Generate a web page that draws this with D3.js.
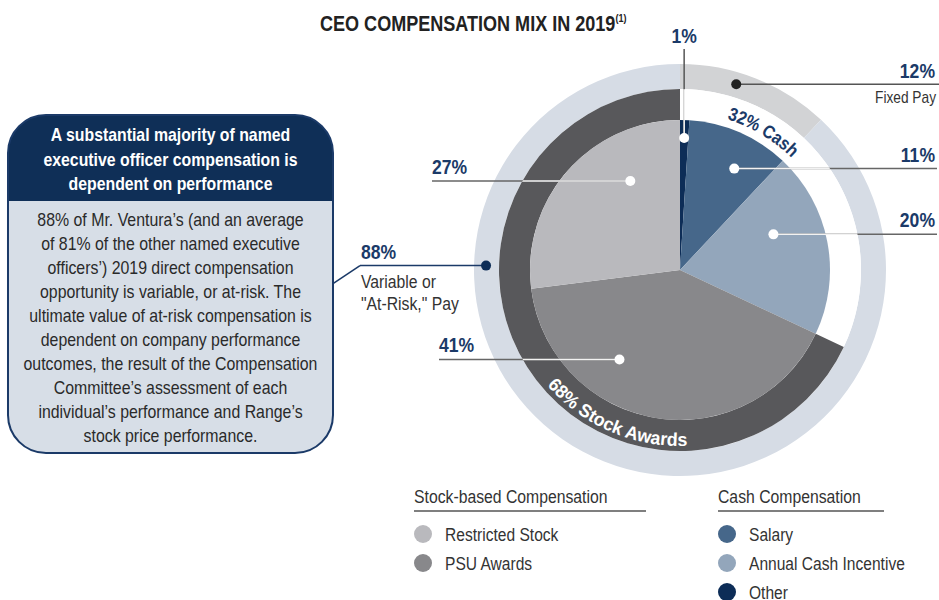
<!DOCTYPE html>
<html>
<head>
<meta charset="utf-8">
<script src="https://cdn.jsdelivr.net/npm/d3@7/dist/d3.min.js"></script>
<style>
  html, body { margin: 0; padding: 0; background: #ffffff; }
  svg { display: block; }
  text { font-family: "Liberation Sans", Arial, "Roboto", sans-serif; }
</style>
</head>
<body>
<svg id="chart" width="939" height="600"></svg>
<script>
// ---------------- DATA ----------------
const sliceCategories = ["Other", "Salary", "Annual Cash Incentive", "PSU Awards", "Restricted Stock"];
const sliceValues = [1, 11, 20, 41, 27];
const sliceLabels = ["1%", "11%", "20%", "41%", "27%"];

const middleRingCategories = ["Cash", "Stock Awards"];
const middleRingValues = [32, 68];
const middleRingLabels = ["32% Cash", "68% Stock Awards"];

const outerRingCategories = ["Fixed Pay", "Variable or \"At-Risk,\" Pay"];
const outerRingValues = [12, 88];
const outerRingLabels = ["12%", "88%"];

const title = "CEO COMPENSATION MIX IN 2019";
const titleNote = "(1)";
const boxHeader = ["A substantial majority of named", "executive officer compensation is", "dependent on performance"];
const boxBody = [
  "88% of Mr. Ventura\u2019s (and an average",
  "of 81% of the other named executive",
  "officers\u2019) 2019 direct compensation",
  "opportunity is variable, or at-risk. The",
  "ultimate value of at-risk compensation is",
  "dependent on company performance",
  "outcomes, the result of the Compensation",
  "Committee\u2019s assessment of each",
  "individual\u2019s performance and Range\u2019s",
  "stock price performance."
];
const legendGroups = ["Stock-based Compensation", "Cash Compensation"];
const legendStock = ["Restricted Stock", "PSU Awards"];
const legendCash = ["Salary", "Annual Cash Incentive", "Other"];

// ---------------- STYLE ----------------
const colors = {
  "Other": "#0d2d57",
  "Salary": "#46678a",
  "Annual Cash Incentive": "#93a6bb",
  "PSU Awards": "#88888b",
  "Restricted Stock": "#b9b9bd"
};
const navy = "#1b3a68";
const svg = d3.select("#chart");
const defs = svg.append("defs");
const cx = 680, cy = 270;
const rPie = 150, rMid = 181, rOut = 206;

const rad = d => d * Math.PI / 180;
const pt = (r, aDeg) => [cx + r * Math.sin(rad(aDeg)), cy - r * Math.cos(rad(aDeg))];

function condense(sel, factor) {
  const w = sel.node().getComputedTextLength();
  sel.attr("textLength", w * factor).attr("lengthAdjust", "spacingAndGlyphs");
  return sel;
}

// ---------------- TITLE ----------------
const t = svg.append("text").attr("x", 320).attr("y", 31)
  .attr("font-size", 22).attr("font-weight", "bold").attr("fill", "#222");
t.append("tspan").text(title);
t.append("tspan").text(titleNote).attr("font-size", 11).attr("dy", -9);
condense(t, 0.82);

// ---------------- PIE ----------------
const pie = d3.pie().sort(null).value(d => d.v);
const g = svg.append("g").attr("transform", `translate(${cx},${cy})`);

const outerData = pie(outerRingCategories.map((c, i) => ({c, v: outerRingValues[i]})));
const outerColors = {"Fixed Pay": "#d2d3d5", "Variable or \"At-Risk,\" Pay": "#d6dce5"};
g.selectAll("path.outer").data(outerData).enter().append("path")
  .attr("d", d3.arc().innerRadius(rMid).outerRadius(rOut))
  .attr("fill", d => outerColors[d.data.c]);

const midData = pie(middleRingCategories.map((c, i) => ({c, v: middleRingValues[i]})));
const midColors = {"Cash": "#ffffff", "Stock Awards": "#58585b"};
g.selectAll("path.mid").data(midData).enter().append("path")
  .attr("d", d3.arc().innerRadius(rPie).outerRadius(rMid))
  .attr("fill", d => midColors[d.data.c]);

const sliceData = pie(sliceCategories.map((c, i) => ({c, v: sliceValues[i]})));
g.selectAll("path.slice").data(sliceData).enter().append("path")
  .attr("d", d3.arc().innerRadius(0).outerRadius(rPie))
  .attr("fill", d => colors[d.data.c]);

// ---------------- SLICE LABELS ----------------
const sliceLabelLayout = {
  "Other": {f: 0.5, r: 132, vertical: true, labelY: 43},
  "Salary": {f: 0.62, r: 115, side: "right", x: 935},
  "Annual Cash Incentive": {f: 0.36, r: 100, side: "right", x: 935},
  "PSU Awards": {f: 0.67, r: 108, side: "left", x: 439},
  "Restricted Stock": {f: 0.70, r: 102, side: "left", x: 432}
};
defs.append("clipPath").attr("id", "inner")
  .append("circle").attr("cx", cx).attr("cy", cy).attr("r", rMid);

function valueText(x, y, anchor, s) {
  const el = svg.append("text").attr("x", x).attr("y", y).attr("text-anchor", anchor)
    .attr("font-size", 19.5).attr("font-weight", "bold").attr("fill", navy).text(s);
  return condense(el, 0.9);
}

sliceData.forEach((d, i) => {
  const L = sliceLabelLayout[d.data.c];
  const a = (d.startAngle + L.f * (d.endAngle - d.startAngle)) * 180 / Math.PI;
  const [dx, dy] = pt(L.r, a);
  if (L.vertical) {
    svg.append("line").attr("x1", dx).attr("y1", dy).attr("x2", dx).attr("y2", L.labelY + 6)
      .attr("stroke", "#555").attr("stroke-width", 1.5);
    svg.append("line").attr("x1", dx).attr("y1", dy).attr("x2", dx).attr("y2", cy - rMid)
      .attr("stroke", "#fff").attr("stroke-width", 1.5).attr("clip-path", "url(#inner)");
    valueText(dx, L.labelY, "middle", sliceLabels[i]);
  } else {
    svg.append("line").attr("x1", dx).attr("y1", dy).attr("x2", L.side === "right" ? 937 : L.x).attr("y2", dy)
      .attr("stroke", "#666").attr("stroke-width", 1.5);
    svg.append("line").attr("x1", dx).attr("y1", dy).attr("x2", L.x).attr("y2", dy)
      .attr("stroke", "#f2f2f2").attr("stroke-width", 1.5).attr("clip-path", "url(#inner)");
    valueText(L.x, dy - 7, L.side === "right" ? "end" : "start", sliceLabels[i]);
  }
  svg.append("circle").attr("cx", dx).attr("cy", dy).attr("r", 5).attr("fill", "#fff");
});

// ---------------- OUTER RING LABELS ----------------
const outerLayout = {
  "Fixed Pay": {f: 0.39, r: 194, x2: 939, side: "right", dot: "#222", line: "#555"},
  "Variable or \"At-Risk,\" Pay": {f: 0.72, r: 194, x2: 360, side: "left", dot: "#0d2d57", line: "#1b3a68"}
};
outerData.forEach((d, i) => {
  const L = outerLayout[d.data.c];
  const a = (d.startAngle + L.f * (d.endAngle - d.startAngle)) * 180 / Math.PI;
  const [dx, dy] = pt(L.r, a);
  svg.append("line").attr("x1", dx).attr("y1", dy).attr("x2", L.x2).attr("y2", dy)
    .attr("stroke", L.line).attr("stroke-width", 1.5);
  svg.append("circle").attr("cx", dx).attr("cy", dy).attr("r", 5).attr("fill", L.dot);
  if (L.side === "right") {
    valueText(935, dy - 6, "end", outerRingLabels[i]);
    svg.append("text").attr("x", 875).attr("y", dy + 19)
      .attr("font-size", 17).attr("fill", "#333").text(d.data.c)
      .attr("textLength", 61).attr("lengthAdjust", "spacingAndGlyphs");
  } else {
    svg.append("line").attr("x1", L.x2).attr("y1", dy).attr("x2", 333).attr("y2", dy + 18)
      .attr("stroke", L.line).attr("stroke-width", 1.5);
    valueText(361, dy - 7, "start", outerRingLabels[i]);
    const parts = ["Variable or", "\"At-Risk,\" Pay"];
    parts.forEach((p, j) => {
      const el = svg.append("text").attr("x", 361).attr("y", dy + 22 + j * 22)
        .attr("font-size", 17.5).attr("fill", "#333").text(p);
      condense(el, 0.9);
    });
  }
});

// ---------------- ARC TEXT ----------------
function arcPath(r, a0, a1) {
  const p0 = pt(r, a0), p1 = pt(r, a1);
  const sweep = a1 > a0 ? 1 : 0;
  const large = Math.abs(a1 - a0) > 180 ? 1 : 0;
  return `M${p0[0]},${p0[1]} A${r},${r} 0 ${large} ${sweep} ${p1[0]},${p1[1]}`;
}
const arcTextLayout = {
  "Cash": {f: 0.27, r: 158, span: 40, fill: navy, len: 76},
  "Stock Awards": {f: 0.36, r: 176, span: 60, fill: "#ffffff", len: 158}
};
midData.forEach((d, i) => {
  const L = arcTextLayout[d.data.c];
  const mid = (d.startAngle + L.f * (d.endAngle - d.startAngle)) * 180 / Math.PI;
  const top = mid < 90 || mid > 270;
  const id = "arc" + i;
  defs.append("path").attr("id", id)
    .attr("d", top ? arcPath(L.r, mid - L.span, mid + L.span) : arcPath(L.r, mid + L.span, mid - L.span));
  svg.append("text").attr("font-size", 18.5).attr("font-weight", "bold").attr("fill", L.fill)
    .append("textPath").attr("href", "#" + id).attr("startOffset", "50%").attr("text-anchor", "middle")
    .attr("textLength", L.len).attr("lengthAdjust", "spacingAndGlyphs")
    .text(middleRingLabels[i]);
});

// ---------------- LEFT BOX ----------------
const box = {x: 8, y: 115, w: 325, h: 338, r: 38, headerH: 86};
defs.append("clipPath").attr("id", "boxclip").append("rect")
  .attr("x", box.x).attr("y", box.y).attr("width", box.w).attr("height", box.h)
  .attr("rx", box.r).attr("ry", box.r);
svg.append("rect").attr("x", box.x).attr("y", box.y).attr("width", box.w).attr("height", box.h)
  .attr("rx", box.r).attr("ry", box.r).attr("fill", "#d7dee7");
svg.append("rect").attr("x", box.x).attr("y", box.y).attr("width", box.w).attr("height", box.headerH)
  .attr("fill", "#0f2f57").attr("clip-path", "url(#boxclip)");
svg.append("rect").attr("x", box.x).attr("y", box.y).attr("width", box.w).attr("height", box.h)
  .attr("rx", box.r).attr("ry", box.r).attr("fill", "none").attr("stroke", "#1b3a68").attr("stroke-width", 2);
boxHeader.forEach((s, i) => {
  const el = svg.append("text").attr("x", box.x + box.w / 2).attr("y", 141 + i * 24.5)
    .attr("text-anchor", "middle").attr("font-size", 18.5).attr("font-weight", "bold").attr("fill", "#fff").text(s);
  condense(el, 0.855);
});
boxBody.forEach((s, i) => {
  const el = svg.append("text").attr("x", box.x + box.w / 2).attr("y", 226 + i * 24)
    .attr("text-anchor", "middle").attr("font-size", 17.8).attr("fill", "#2a2a2a").text(s);
  condense(el, 0.893);
});

// ---------------- LEGEND ----------------
function legend(x, header, items, lineEnd) {
  const h = svg.append("text").attr("x", x).attr("y", 503).attr("font-size", 17.5).attr("fill", "#333").text(header);
  condense(h, 0.9);
  svg.append("line").attr("x1", x).attr("x2", lineEnd).attr("y1", 511).attr("y2", 511)
    .attr("stroke", "#555").attr("stroke-width", 1.5);
  items.forEach((it, j) => {
    const y = 534 + j * 29;
    svg.append("circle").attr("cx", x + 9).attr("cy", y).attr("r", 9).attr("fill", colors[it]);
    const el = svg.append("text").attr("x", x + 31).attr("y", y + 7).attr("font-size", 17.5).attr("fill", "#333").text(it);
    condense(el, 0.89);
  });
}
legend(414, legendGroups[0], legendStock, 646);
legend(718, legendGroups[1], legendCash, 884);
</script>
</body>
</html>
